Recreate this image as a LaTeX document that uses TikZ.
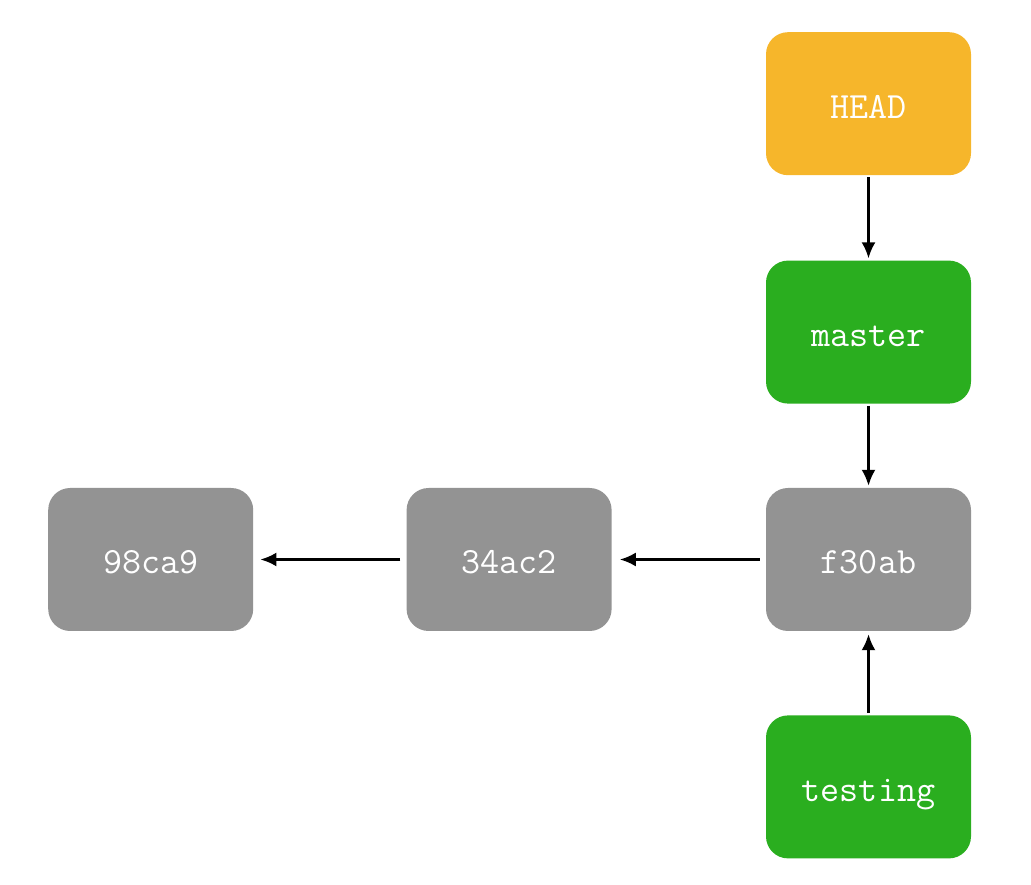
\documentclass[tikz,border=0pt]{standalone}
\usetikzlibrary{positioning, arrows.meta}

\definecolor{commitgray}{HTML}{939393}
\definecolor{headorange}{HTML}{F6B62B}
\definecolor{branchgreen}{HTML}{2AAE1F}

\tikzset{
	box/.style={rounded corners=22pt, minimum width=205pt, minimum height=143pt,
		inner sep=0pt, text height=29pt, text depth=0pt, text=white,
		font=\fontsize{37}{40}\selectfont\ttfamily},
	commit/.style={box, fill=commitgray},
	branch/.style={box, fill=branchgreen},
	headbox/.style={box, fill=headorange},
	ptr/.style={line width=2.5pt, -{Latex[length=16pt, width=14pt]}}
}

\begin{document}
\begin{tikzpicture}[x=1pt, y=1pt]
	\useasboundingbox (0,0) rectangle (1031, 884);

	\node [commit] (f30ab) at (868.5, 324.5) {f30ab};
	\node [commit, left=154pt of f30ab] (34ac2) {34ac2};
	\node [commit, left=153pt of 34ac2] (98ca9) {98ca9};
	\node [branch, above=84pt of f30ab] (master) {master};
	\node [headbox, above=85pt of master] (HEAD) {HEAD};
	\node [branch, below=84pt of f30ab] (testing) {testing};

	\draw [ptr, shorten <=2pt, shorten >=2pt] (HEAD) -- (master);
	\draw [ptr, shorten <=2pt, shorten >=2pt] (master) -- (f30ab);
	\draw [ptr, shorten <=2pt, shorten >=3pt] (testing) -- (f30ab);
	\draw [ptr, shorten <=6pt, shorten >=8pt] (f30ab) -- (34ac2);
	\draw [ptr, shorten <=6pt, shorten >=7pt] (34ac2) -- (98ca9);
\end{tikzpicture}
\end{document}
